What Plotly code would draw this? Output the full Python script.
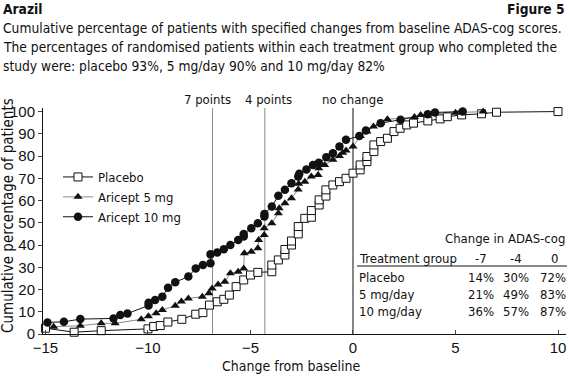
import plotly.graph_objects as go

# ---- data ----
placebo_x = [-15, -13.6, -12.28, -10.0, -9.72, -9.4, -9.03, -8.35, -7.67, -7.32, -7.0, -6.62, -6.3, -6.03,
             -5.7, -5.33, -5.0, -4.64, -3.96, -3.96, -3.64, -3.32, -3.32, -3.0, -3.0, -2.67, -2.67,
             -2.35, -2.03, -2.03, -1.65, -1.65, -1.32, -1.32, -0.98, -0.66, -0.34, 0.0, 0.35, 0.35,
             0.68, 0.68, 1.02, 1.02, 1.35, 1.68, 2.0, 2.3, 2.62, 2.95, 3.65, 4.25, 4.6, 5.3, 6.27, 7.0, 10.0]
placebo_y = [2.6, 0.8, 1.5, 2.3, 3.4, 3.8, 5.4, 6.6, 8.9, 9.6, 13.0, 14.5, 15.6, 17.5,
             21.3, 24.3, 26.5, 27.7, 28.0, 31.0, 33.3, 35.5, 38.0, 40.0, 41.8, 45.0, 48.3,
             52.0, 52.5, 55.5, 58.0, 60.3, 62.0, 64.8, 67.0, 68.5, 70.0, 72.3, 73.8, 76.0,
             77.5, 79.8, 82.0, 85.0, 86.5, 88.0, 91.0, 92.5, 94.0, 94.8, 95.8, 96.7, 97.7, 98.5, 99.0, 99.7, 100.0]

a5_x = [-14.6, -13.3, -12.28, -11.6, -10.33, -9.98, -9.6, -9.3, -8.67, -8.37, -8.03, -7.35, -7.03, -6.87,
        -6.58, -6.25, -5.98, -5.6, -5.33, -5.3, -4.96, -4.64, -4.6, -4.33, -4.33, -3.96, -3.64, -3.6,
        -3.32, -3.0, -2.67, -2.65, -2.35, -2.03, -1.7, -1.67, -1.38, -0.98, -0.66, -0.5, -0.34, 0.0,
        0.36, 0.68, 1.0, 1.35, 1.68, 3.0, 3.3, 5.0, 6.35]
a5_y = [3.3, 3.7, 4.8, 4.8, 6.6, 8.0, 9.3, 10.8, 12.7, 14.6, 16.0, 16.8, 18.3, 20.5,
        22.3, 23.5, 27.3, 28.0, 29.5, 36.3, 37.0, 38.5, 42.3, 44.5, 47.5, 49.8, 54.3, 56.5,
        58.8, 61.0, 65.0, 67.5, 68.5, 70.8, 71.5, 74.5, 76.0, 78.3, 80.0, 81.5, 82.5, 84.3,
        89.0, 91.0, 93.3, 95.0, 96.5, 97.5, 98.5, 99.5, 100.0]

a10_x = [-14.9, -14.1, -13.3, -11.68, -11.35, -11.0, -9.97, -9.97, -9.65, -9.3, -9.02, -8.67, -8.03,
         -7.67, -7.32, -6.95, -6.95, -6.62, -6.3, -5.98, -5.6, -5.33, -5.33, -4.96, -4.64, -4.32,
         -4.32, -3.96, -3.64, -3.32, -3.0, -2.67, -2.62, -2.27, -1.95, -1.67, -1.3, -0.98, -0.66,
         -0.34, 0.31, 0.63, 1.35, 2.32, 3.65, 4.0, 5.35]
a10_y = [5.2, 5.5, 6.7, 7.0, 8.5, 9.2, 12.8, 14.0, 15.3, 16.8, 20.8, 23.3, 25.8,
         29.5, 31.0, 31.8, 35.8, 36.6, 38.1, 40.0, 42.3, 43.8, 45.0, 47.5, 49.8, 52.8,
         54.0, 57.3, 62.2, 64.8, 67.8, 70.8, 72.0, 74.0, 76.0, 77.0, 79.5, 81.3, 84.3,
         87.3, 89.0, 91.5, 94.8, 96.3, 98.8, 99.6, 100.0]

ref_lines_x = [-6.85, -4.3, 0.0]
ref_labels = ["7 points", "4 points", "no change"]
ref_colors = ["#8a8a8a", "#8a8a8a", "#111111"]

table_cols = ["-7", "-4", "0"]
table_rows = ["Placebo", "5 mg/day", "10 mg/day"]
table_vals = [["14%", "30%", "72%"], ["21%", "49%", "83%"], ["36%", "57%", "87%"]]

x_ticks = [-15, -10, -5, 0, 5, 10]
y_ticks = list(range(0, 101, 10))

FONT = "Liberation Sans Narrow, DejaVu Sans Condensed, Arial Narrow, sans-serif"
TICKFONT = "Liberation Sans, Arial, sans-serif"
INK = "#111111"

W, H = 569, 377
L, R, T, B = 43, 3, 108, 43


def px(xp):
    return (xp - L) / (W - L - R)


def py(yp):
    return (H - B - yp) / (H - T - B)


fig = go.Figure()

fig.add_trace(go.Scatter(
    x=placebo_x, y=placebo_y, mode="lines+markers", name="Placebo",
    line=dict(color=INK, width=1),
    marker=dict(symbol="square", size=8, color="white", line=dict(color=INK, width=1)),
    cliponaxis=False))
fig.add_trace(go.Scatter(
    x=a5_x, y=a5_y, mode="lines+markers", name="Aricept 5 mg",
    line=dict(color="#8a8a8a", width=1),
    marker=dict(symbol="triangle-up", size=8, color=INK),
    cliponaxis=False))
fig.add_trace(go.Scatter(
    x=a10_x, y=a10_y, mode="lines+markers", name="Aricept 10 mg",
    line=dict(color=INK, width=1),
    marker=dict(symbol="circle", size=8.5, color=INK),
    cliponaxis=False))

label_shift = [-5, 4, 0]
for xv, lab, col, sh in zip(ref_lines_x, ref_labels, ref_colors, label_shift):
    fig.add_shape(type="line", xref="x", yref="y", x0=xv, x1=xv, y0=0, y1=101.6,
                  line=dict(color=col, width=1), layer="below")
    fig.add_annotation(x=xv, y=py(99), xref="x", yref="paper", text=lab, showarrow=False,
                       xanchor="center", yanchor="middle", xshift=sh,
                       font=dict(family=FONT, size=13, color=INK))

TITLE_SIZE = 13.7
TABLE_SIZE = 13
annots = []
# titles
annots.append(dict(x=px(1), y=py(9), text="<b>Arazil</b>", xanchor="left", size=TITLE_SIZE))
annots.append(dict(x=px(567), y=py(9), text="<b>Figure 5</b>", xanchor="right", size=TITLE_SIZE))
annots.append(dict(x=px(1), y=py(28),
                   text="Cumulative percentage of patients with specified changes from baseline ADAS-cog scores.",
                   xanchor="left", size=TITLE_SIZE))
annots.append(dict(x=px(1), y=py(47),
                   text="The percentages of randomised patients within each treatment group who completed the",
                   xanchor="left", size=TITLE_SIZE))
annots.append(dict(x=px(1), y=py(66),
                   text="study were: placebo 93%, 5 mg/day 90% and 10 mg/day 82%", xanchor="left",
                   size=TITLE_SIZE))
# axis titles
annots.append(dict(x=px(291), y=py(366), text="Change from baseline", xanchor="center", size=14))
annots.append(dict(x=px(8), y=py(216), text="Cumulative percentage of patients", xanchor="center",
                   size=15, textangle=-90))
# table
annots.append(dict(x=px(567), y=py(238), text="Change in ADAS-cog", xanchor="right", size=TABLE_SIZE))
annots.append(dict(x=px(357), y=py(258), text="Treatment group", xanchor="left", size=TABLE_SIZE))
col_hdr_right = [489, 524, 560]
col_val_right = [496, 531, 568]
for c, xr in zip(table_cols, col_hdr_right):
    annots.append(dict(x=px(xr), y=py(258), text=c, xanchor="right", size=TABLE_SIZE))
row_y = [277, 294, 311]
for r, yy, vals in zip(table_rows, row_y, table_vals):
    annots.append(dict(x=px(357), y=py(yy), text=r, xanchor="left", size=TABLE_SIZE))
    for v, xr in zip(vals, col_val_right):
        annots.append(dict(x=px(xr), y=py(yy), text=v, xanchor="right", size=TABLE_SIZE))

for a in annots:
    size = a.pop("size")
    fig.add_annotation(xref="paper", yref="paper", showarrow=False, yanchor="middle",
                       font=dict(family=FONT, size=size, color=INK), **a)

fig.add_shape(type="line", xref="paper", yref="paper", x0=px(357), x1=px(567), y0=py(266), y1=py(266),
              line=dict(color="#8a8a8a", width=2))

fig.update_layout(
    width=W, height=H,
    margin=dict(l=L, r=R, t=T, b=B, pad=0, autoexpand=False),
    paper_bgcolor="white", plot_bgcolor="white",
    showlegend=True,
    legend=dict(x=px(58), y=py(162), xanchor="left", yanchor="top",
                font=dict(family=FONT, size=13, color=INK),
                bgcolor="rgba(0,0,0,0)", itemwidth=30, tracegroupgap=0),
    font=dict(family=FONT, color=INK),
)
fig.update_xaxes(range=[-15.12, 10.39], tickvals=x_ticks, ticks="inside", ticklen=4,
                 showline=True, linecolor=INK, linewidth=1, showgrid=False, zeroline=False,
                 ticklabeloverflow="allow",
                 tickfont=dict(family=TICKFONT, size=15, color=INK), automargin=False)
fig.update_yaxes(range=[0, 101.6], tickvals=y_ticks, ticks="outside", ticklen=4,
                 showline=True, linecolor=INK, linewidth=1, showgrid=False, zeroline=False,
                 ticklabeloverflow="allow",
                 tickfont=dict(family=TICKFONT, size=15, color=INK), automargin=False)

fig.write_html("out.html", config={"displayModeBar": False},
               post_script="document.body.style.margin='0';document.body.style.overflow='hidden';")
